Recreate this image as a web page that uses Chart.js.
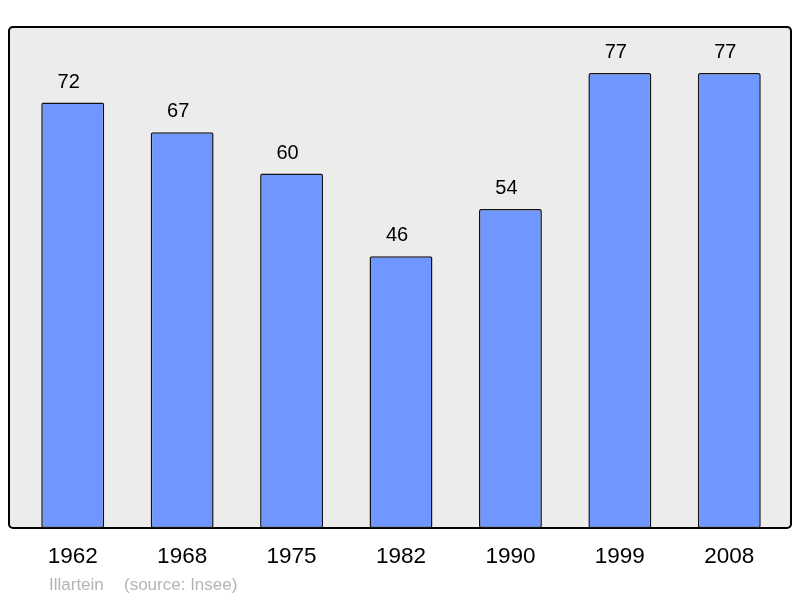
<!DOCTYPE html>
<html>
<head>
<meta charset="utf-8">
<script src="https://cdn.jsdelivr.net/npm/chart.js@4/dist/chart.umd.min.js"></script>
<style>
  html, body { margin: 0; padding: 0; background: #fff; }
  #wrap { width: 800px; height: 598px; }
</style>
</head>
<body>
<div id="wrap"><canvas id="bar-chart" width="800" height="598"></canvas></div>
<script>
const years = ["1962", "1968", "1975", "1982", "1990", "1999", "2008"];
const population = [72, 67, 60, 46, 54, 77, 77];
const yMax = 84.8;
const footerName = "Illartein";
const footerSource = "(source: Insee)";

// grey panel with rounded black frame behind the bars
const panelPlugin = {
  id: "panel",
  beforeDatasetsDraw(chart) {
    const { ctx, chartArea } = chart;
    const x0 = chartArea.left - 9, x1 = chartArea.right + 7;
    const y0 = chartArea.top, y1 = chartArea.bottom;
    ctx.save();
    ctx.beginPath();
    ctx.roundRect(x0, y0, x1 - x0, y1 - y0, 4);
    ctx.fillStyle = "#ececec";
    ctx.fill();
    ctx.lineWidth = 2;
    ctx.strokeStyle = "#000";
    ctx.stroke();
    ctx.restore();
  },
  afterDatasetsDraw(chart) {
    const { ctx } = chart;
    const meta = chart.getDatasetMeta(0);
    ctx.save();
    ctx.font = "20px 'Liberation Sans', Arial, sans-serif";
    ctx.fillStyle = "#000";
    ctx.textAlign = "center";
    ctx.textBaseline = "alphabetic";
    meta.data.forEach((bar, i) => {
      ctx.fillText(String(population[i]), bar.x - 4, bar.y - 15);
    });
    ctx.font = "17px 'Liberation Sans', Arial, sans-serif";
    ctx.fillStyle = "#b4b4b4";
    ctx.textAlign = "left";
    ctx.fillText(footerName, 49, 590);
    ctx.fillText(footerSource, 124, 590);
    ctx.restore();
  },
};

new Chart(document.getElementById("bar-chart"), {
  type: "bar",
  data: {
    labels: years,
    datasets: [
      {
        data: population,
        backgroundColor: "#7096ff",
        borderColor: "#111",
        borderWidth: 1.5,
        borderRadius: 2,
        borderSkipped: false,
        barPercentage: 0.575,
        categoryPercentage: 1,
      },
    ],
  },
  options: {
    responsive: false,
    animation: false,
    layout: { padding: { left: 18, right: 16, top: 27, bottom: 0 } },
    plugins: { legend: { display: false }, tooltip: { enabled: false } },
    scales: {
      x: {
        grid: { display: false, drawTicks: false },
        border: { display: false },
        ticks: {
          color: "#000",
          padding: 15,
          font: { family: "'Liberation Sans', Arial, sans-serif", size: 22.5 },
        },
        afterFit(scale) {
          scale.height = 70;
        },
      },
      y: {
        display: false,
        min: 0,
        max: yMax,
      },
    },
  },
  plugins: [panelPlugin],
});
</script>
</body>
</html>
